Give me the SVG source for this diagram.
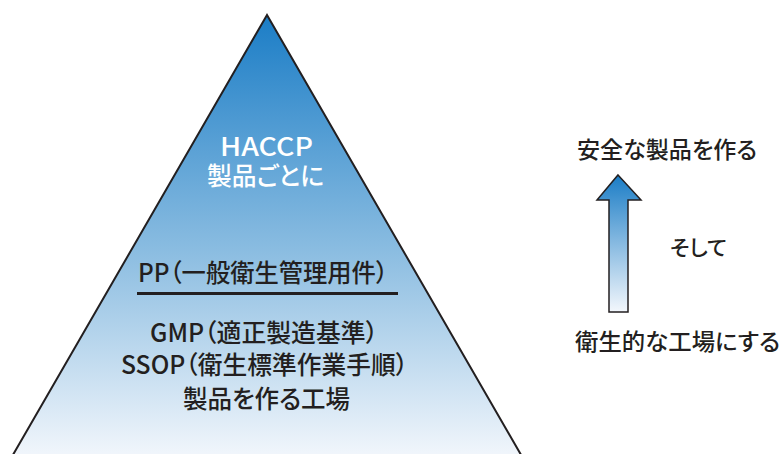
<svg xmlns="http://www.w3.org/2000/svg" width="781" height="454" viewBox="0 0 781 454">
<defs>
<linearGradient id="pyr" x1="0" y1="0" x2="0" y2="1">
<stop offset="0" stop-color="#1b7dc6"/>
<stop offset="0.55" stop-color="#8fbfe2"/>
<stop offset="1" stop-color="#f3f7fc"/>
</linearGradient>
<linearGradient id="arr" x1="0" y1="0" x2="0" y2="1">
<stop offset="0" stop-color="#1b7dc6"/>
<stop offset="1" stop-color="#f3f7fc"/>
</linearGradient>
<style>
text{font-family:"Noto Sans CJK JP","Noto Sans",sans-serif;font-weight:500;fill:#231f20;text-anchor:middle;font-feature-settings:"palt" 1}
.w{fill:#ffffff}
.l{text-anchor:start}
</style>
</defs>
<rect width="781" height="454" fill="#ffffff"/>
<g id="pyramid">
<polygon points="267,15 10,460 524,460" fill="url(#pyr)" stroke="#231f20" stroke-width="2" stroke-linejoin="miter"/>
<line x1="137" y1="293.5" x2="398" y2="293.5" stroke="#231f20" stroke-width="3"/>
<text class="w" x="266.5" y="156" font-size="25" textLength="93" lengthAdjust="spacingAndGlyphs">HACCP</text>
<text class="w" x="265.5" y="185" font-size="25" textLength="117" lengthAdjust="spacingAndGlyphs">製品ごとに</text>
<text x="263" y="282" font-size="25" textLength="250" lengthAdjust="spacingAndGlyphs">PP（一般衛生管理用件）</text>
<text x="264" y="342" font-size="25" textLength="228" lengthAdjust="spacingAndGlyphs">GMP（適正製造基準）</text>
<text x="264.5" y="374" font-size="25" textLength="287" lengthAdjust="spacingAndGlyphs">SSOP（衛生標準作業手順）</text>
<text x="266.5" y="408" font-size="25" textLength="167" lengthAdjust="spacingAndGlyphs">製品を作る工場</text>
</g>
<g id="arrow">
<polygon points="618,175 641,200 628,200 628,312 609,312 609,200 597,200" fill="url(#arr)" stroke="#231f20" stroke-width="1.5" stroke-linejoin="miter"/>
</g>
<g id="labels">
<text class="l" x="577" y="158" font-size="23" textLength="180" lengthAdjust="spacingAndGlyphs">安全な製品を作る</text>
<text class="l" x="670" y="255" font-size="21" textLength="57" lengthAdjust="spacingAndGlyphs">そして</text>
<text class="l" x="575" y="350" font-size="23" textLength="205" lengthAdjust="spacingAndGlyphs">衛生的な工場にする</text>
</g>
</svg>
